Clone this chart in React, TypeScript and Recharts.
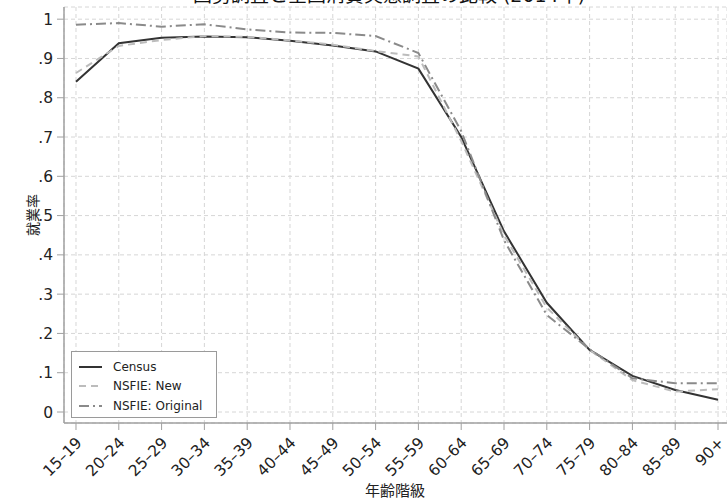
import React from 'react';
import { LineChart, Line, XAxis, YAxis, CartesianGrid, Legend } from 'recharts';

const ageGroups = ['15–19', '20–24', '25–29', '30–34', '35–39', '40–44', '45–49', '50–54', '55–59', '60–64', '65–69', '70–74', '75–79', '80–84', '85–89', '90+'];
const census = [0.841, 0.939, 0.953, 0.956, 0.954, 0.945, 0.933, 0.918, 0.874, 0.70, 0.46, 0.278, 0.158, 0.092, 0.056, 0.031];
const nsfieNew = [0.863, 0.932, 0.947, 0.957, 0.955, 0.946, 0.935, 0.919, 0.905, 0.69, 0.45, 0.266, 0.158, 0.081, 0.052, 0.058];
const nsfieOriginal = [0.986, 0.990, 0.981, 0.987, 0.974, 0.966, 0.965, 0.957, 0.914, 0.715, 0.437, 0.247, 0.16, 0.086, 0.073, 0.073];
const yTicks = [0, 0.1, 0.2, 0.3, 0.4, 0.5, 0.6, 0.7, 0.8, 0.9, 1];
const yTickLabels = ['0', '.1', '.2', '.3', '.4', '.5', '.6', '.7', '.8', '.9', '1'];
const seriesNames = ['Census', 'NSFIE: New', 'NSFIE: Original'];
const titleText = '国勢調査と全国消費実態調査の比較 (2014年)';
const xLabel = '年齢階級';
const yLabel = '就業率';

const data = ageGroups.map((g, i) => ({
  idx: i,
  group: g,
  census: census[i],
  nsfieNew: nsfieNew[i],
  nsfieOriginal: nsfieOriginal[i],
}));

const FONT = '"DejaVu Sans", "Noto Sans CJK JP", sans-serif';
const AXIS = '#a0a0a0';

const seriesStyle = [
  { key: 'census', color: '#333333', dash: undefined as string | undefined },
  { key: 'nsfieNew', color: '#bcbcbc', dash: '7 5' },
  { key: 'nsfieOriginal', color: '#8a8a8a', dash: '10 4 2 4' },
];

const XTick = (props: any) => {
  const { x, y, payload } = props;
  const label = ageGroups[payload.value] ?? '';
  return (
    <g transform={`translate(${x + 3},${y + 8})`}>
      <text
        x={0}
        y={0}
        dy="0.35em"
        textAnchor="end"
        transform="rotate(-45)"
        fontSize={15.5}
        fill="#222"
        fontFamily={FONT}
      >
        {label}
      </text>
    </g>
  );
};

const LegendBox = () => (
  <div
    style={{
      width: 146,
      height: 67,
      border: '1px solid #9a9a9a',
      background: '#fff',
      fontFamily: FONT,
      fontSize: 12,
      color: '#222',
      paddingTop: 5,
      boxSizing: 'border-box',
    }}
  >
    {seriesNames.map((name, i) => (
      <div key={name} style={{ display: 'flex', alignItems: 'center', height: 19.5 }}>
        <svg width={40} height={10} style={{ display: 'block' }}>
          <line
            x1={7}
            x2={30}
            y1={5}
            y2={5}
            stroke={seriesStyle[i].color}
            strokeWidth={2}
            strokeDasharray={seriesStyle[i].dash}
          />
        </svg>
        <span style={{ marginLeft: 1, lineHeight: '12px' }}>{name}</span>
      </div>
    ))}
  </div>
);

export default function App() {
  return (
    <div style={{ position: 'absolute', left: 0, top: 0, width: 727, height: 503, background: '#fff' }}>
      <svg width={727} height={503} style={{ position: 'absolute', left: 0, top: 0, overflow: 'visible' }}>
        <text x={389} y={2} textAnchor="middle" fontSize={19} fill="#111" fontFamily={FONT}>
          {titleText}
        </text>
        <text
          x={0}
          y={0}
          transform="translate(33,215) rotate(-90)"
          textAnchor="middle"
          dominantBaseline="central"
          fontSize={14}
          fill="#222"
          fontFamily={FONT}
        >
          {yLabel}
        </text>
        <text x={395} y={491} textAnchor="middle" dominantBaseline="central" fontSize={15} fill="#222" fontFamily={FONT}>
          {xLabel}
        </text>
      </svg>
      <div style={{ position: 'absolute', left: 0, top: 0 }}>
        <LineChart width={727} height={503} data={data} margin={{ top: 7, right: 0, bottom: 0, left: 0 }}>
          <CartesianGrid stroke="#d6d6d6" strokeDasharray="4 3" />
          <XAxis
            dataKey="idx"
            type="number"
            domain={[-0.28, 15.21]}
            ticks={ageGroups.map((_, i) => i)}
            allowDataOverflow
            height={80}
            tickSize={7}
            tickLine={{ stroke: AXIS }}
            axisLine={{ stroke: AXIS, strokeWidth: 1.5 }}
            tick={<XTick />}
            interval={0}
          />
          <YAxis
            type="number"
            domain={[-0.028, 1.031]}
            ticks={yTicks}
            allowDataOverflow
            width={64}
            tickSize={7}
            tickMargin={4}
            tickLine={{ stroke: AXIS }}
            axisLine={{ stroke: AXIS, strokeWidth: 1.5 }}
            tickFormatter={(v: number) => yTickLabels[yTicks.indexOf(v)] ?? String(v)}
            tick={{ fontSize: 15.5, fill: '#222', fontFamily: FONT }}
            interval={0}
          />
          <Legend
            layout="vertical"
            align="center"
            verticalAlign="middle"
            content={<LegendBox />}
            wrapperStyle={{ position: 'absolute', left: 71, top: 351, width: 146, height: 67 }}
          />
          {seriesStyle.map((s, i) => (
            <Line
              key={s.key}
              dataKey={s.key}
              name={seriesNames[i]}
              type="linear"
              stroke={s.color}
              strokeWidth={2}
              strokeDasharray={s.dash}
              dot={false}
              activeDot={false}
              isAnimationActive={false}
            />
          ))}
        </LineChart>
      </div>
    </div>
  );
}
